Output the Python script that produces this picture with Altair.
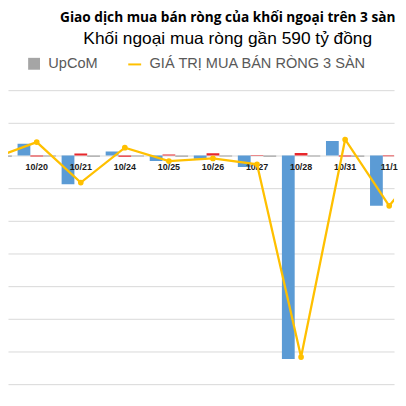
import altair as alt
import pandas as pd

dates = ["10/19", "10/20", "10/21", "10/24", "10/25", "10/26", "10/27", "10/28", "10/31", "11/1", "11/2"]
hose = [-60, 360, -880, 120, -170, -100, -350, -6230, 440, -1540, 120]
hnx = [-20, -30, 60, -40, 30, 70, -15, 80, -30, -20, 10]
upcom = [-40, -30, -40, -30, -40, -30, -40, -30, -40, -30, -30]
total = [-90, 410, -830, 240, -170, -90, -270, -6170, 490, -1540, 100]
grid_values = [-7000, -6000, -5000, -4000, -3000, -2000, -1000, 0, 1000, 2000]

series_names = ["HOSE", "HNX", "UpCoM"]
series_colors = ["#5B9BD5", "#E8262B", "#A5A5A5"]
line_name = "GIÁ TRỊ MUA BÁN RÒNG 3 SÀN"

offsets = {"HOSE": -0.29, "HNX": 0.0, "UpCoM": 0.29}
half_w = 0.145

rows = []
for i, d in enumerate(dates):
    for s, vals in zip(series_names, [hose, hnx, upcom]):
        rows.append({"date": d, "series": s, "value": vals[i],
                     "x0": i + offsets[s] - half_w, "x1": i + offsets[s] + half_w})
df_bars = pd.DataFrame(rows)
df_line = pd.DataFrame({"date": dates, "idx": list(range(len(dates))), "total": total, "label": line_name})
df_labels = df_line[(df_line["idx"] >= 1) & (df_line["idx"] <= 9)]

xscale = alt.Scale(domain=[0.348, 9.11], nice=False, zero=False)
yscale = alt.Scale(domain=[-7394, 2000], nice=False, zero=False)
yaxis = alt.Axis(values=grid_values, tickCount=50, labels=False, ticks=False, domain=False,
                 grid=True, gridColor="#d9d9d9", gridWidth=1, title=None)

legend_common = dict(orient="none", legendY=-34, title=None, labelFontSize=14.7,
                     labelFont="Liberation Sans", labelColor="#595959", labelOffset=7,
                     padding=0, labelLimit=400)

bars = alt.Chart(df_bars).mark_bar(clip=True).encode(
    x=alt.X("x0:Q", scale=xscale, axis=None),
    x2="x1:Q",
    y=alt.Y("value:Q", scale=yscale, axis=yaxis, stack=None),
    y2=alt.datum(0),
    color=alt.Color("series:N", scale=alt.Scale(domain=series_names, range=series_colors),
                    legend=alt.Legend(values=["UpCoM"], legendX=19, symbolType="square",
                                      symbolSize=144, symbolStrokeWidth=0, **legend_common)),
)

labels = alt.Chart(df_labels).mark_text(dy=11.5, fontWeight="bold", fontSize=9,
                                        font="Liberation Sans", color="#1a1a1a").encode(
    x=alt.X("idx:Q", scale=xscale, axis=None),
    y=alt.datum(0),
    text="date:N",
)

line = alt.Chart(df_line).mark_line(clip=True, strokeWidth=2.3,
                                    point=alt.OverlayMarkDef(filled=True, size=14, color="#FFC000")).encode(
    x=alt.X("idx:Q", scale=xscale, axis=None),
    y=alt.Y("total:Q", scale=yscale),
    stroke=alt.Stroke("label:N", scale=alt.Scale(domain=[line_name], range=["#FFC000"]),
                      legend=alt.Legend(legendX=120, symbolType="stroke", symbolSize=170,
                                        symbolStrokeWidth=2, **legend_common)),
)

chart = alt.layer(bars, labels, line).properties(
    width=390, height=310, padding=0,
    title=alt.TitleParams(text="Giao dịch mua bán ròng của khối ngoại trên 3 sàn",
                          subtitle="Khối ngoại mua ròng gần 590 tỷ đồng",
                          font="Open Sans", fontSize=13.8, fontWeight="bold", color="black",
                          subtitleFont="Liberation Sans", subtitleFontSize=17.5, subtitleColor="black",
                          anchor="middle", dx=27, subtitlePadding=6, offset=9),
).configure_view(stroke=None)

chart.save("out.html", embed_options={"renderer": "svg", "actions": False})
